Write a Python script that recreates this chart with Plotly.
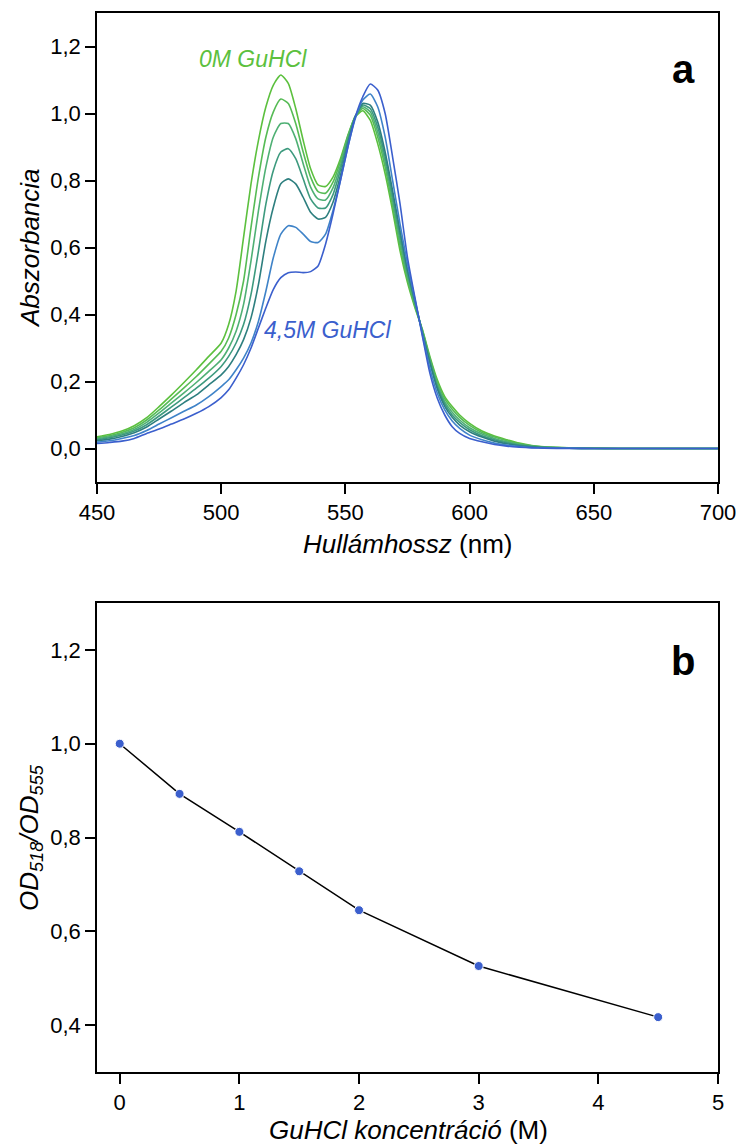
import plotly.graph_objects as go

W, H = 740, 1147

# ---------------- data: panel a (absorbance spectra) ----------------
wavelength = [450, 455, 460, 465, 470, 475, 480, 485, 490, 495, 500, 503, 506, 509, 512, 515,
              518, 521, 524, 527, 530, 533, 536, 539, 542, 545, 548, 551, 554, 557, 560, 563,
              566, 569, 572, 575, 578, 581, 584, 587, 590, 593, 596, 600, 605, 610, 615, 620,
              625, 630, 640, 650, 660, 670, 680, 690, 700]

abs_0M = [0.035, 0.042, 0.052, 0.068, 0.092, 0.125, 0.160, 0.197, 0.235, 0.275, 0.315, 0.37, 0.47, 0.63, 0.79, 0.92,
          1.02, 1.085, 1.115, 1.09, 1.015, 0.92, 0.835, 0.787, 0.782, 0.81, 0.865, 0.935, 0.99, 1.008, 0.98, 0.91,
          0.82, 0.71, 0.59, 0.495, 0.42, 0.355, 0.275, 0.205, 0.155, 0.125, 0.10, 0.075, 0.052, 0.037, 0.026, 0.016,
          0.009, 0.005, 0.002, 0.001, 0.0, 0.0, 0.0, 0.0, 0.0]
abs_05M = [0.032, 0.038, 0.048, 0.062, 0.085, 0.115, 0.148, 0.181, 0.215, 0.252, 0.29, 0.33, 0.40, 0.50, 0.66, 0.81,
           0.93, 1.005, 1.043, 1.03, 0.97, 0.885, 0.81, 0.767, 0.762, 0.795, 0.857, 0.932, 0.992, 1.015, 0.995, 0.93,
           0.84, 0.725, 0.605, 0.505, 0.425, 0.353, 0.27, 0.198, 0.148, 0.117, 0.093, 0.069, 0.048, 0.034, 0.023, 0.014,
           0.008, 0.004, 0.002, 0.001, 0.0, 0.0, 0.0, 0.0, 0.0]
abs_1M = [0.029, 0.035, 0.044, 0.057, 0.078, 0.106, 0.136, 0.166, 0.197, 0.23, 0.265, 0.30, 0.35, 0.43, 0.56, 0.71,
          0.84, 0.93, 0.97, 0.97, 0.925, 0.85, 0.78, 0.745, 0.742, 0.778, 0.845, 0.927, 0.993, 1.02, 1.005, 0.945,
          0.855, 0.74, 0.62, 0.515, 0.43, 0.35, 0.265, 0.19, 0.14, 0.108, 0.085, 0.062, 0.043, 0.03, 0.02, 0.012,
          0.007, 0.004, 0.001, 0.0, 0.0, 0.0, 0.0, 0.0, 0.0]
abs_15M = [0.026, 0.032, 0.040, 0.052, 0.071, 0.097, 0.124, 0.152, 0.18, 0.21, 0.245, 0.275, 0.315, 0.37, 0.46, 0.59,
           0.73, 0.83, 0.885, 0.895, 0.865, 0.805, 0.745, 0.718, 0.718, 0.758, 0.832, 0.92, 0.99, 1.025, 1.015, 0.96,
           0.87, 0.755, 0.635, 0.525, 0.435, 0.348, 0.26, 0.185, 0.133, 0.10, 0.078, 0.056, 0.038, 0.026, 0.017, 0.010,
           0.006, 0.003, 0.001, 0.0, 0.0, 0.0, 0.0, 0.0, 0.0]
abs_2M = [0.023, 0.028, 0.036, 0.047, 0.064, 0.088, 0.112, 0.137, 0.16, 0.19, 0.22, 0.245, 0.28, 0.325, 0.39, 0.49,
          0.62, 0.72, 0.79, 0.805, 0.79, 0.75, 0.705, 0.685, 0.69, 0.735, 0.815, 0.91, 0.99, 1.03, 1.025, 0.975,
          0.885, 0.77, 0.65, 0.535, 0.44, 0.345, 0.255, 0.178, 0.126, 0.093, 0.07, 0.05, 0.034, 0.022, 0.014, 0.008,
          0.005, 0.003, 0.001, 0.0, 0.0, 0.0, 0.0, 0.0, 0.0]
abs_3M = [0.019, 0.023, 0.030, 0.039, 0.054, 0.073, 0.092, 0.111, 0.13, 0.155, 0.185, 0.205, 0.235, 0.27, 0.315, 0.38,
          0.47, 0.57, 0.64, 0.665, 0.66, 0.64, 0.618, 0.615, 0.64, 0.71, 0.80, 0.90, 0.985, 1.04, 1.058, 1.02,
          0.93, 0.80, 0.67, 0.55, 0.445, 0.34, 0.24, 0.165, 0.115, 0.082, 0.06, 0.04, 0.026, 0.016, 0.010, 0.006,
          0.003, 0.002, 0.001, 0.0, 0.0, 0.0, 0.0, 0.0, 0.0]
abs_45M = [0.015, 0.018, 0.022, 0.030, 0.045, 0.058, 0.073, 0.088, 0.105, 0.125, 0.152, 0.175, 0.21, 0.25, 0.30, 0.36,
           0.42, 0.475, 0.51, 0.525, 0.527, 0.525, 0.528, 0.545, 0.61, 0.70, 0.80, 0.90, 0.99, 1.05, 1.088, 1.07,
           1.0, 0.87, 0.73, 0.57, 0.45, 0.335, 0.225, 0.15, 0.10, 0.065, 0.045, 0.03, 0.02, 0.012, 0.007, 0.004,
           0.002, 0.001, 0.0, 0.0, 0.0, 0.0, 0.0, 0.0, 0.0]

spectra = [abs_0M, abs_05M, abs_1M, abs_15M, abs_2M, abs_3M, abs_45M]
spectra_names = ["0 M", "0,5 M", "1 M", "1,5 M", "2 M", "3 M", "4,5 M"]
spectra_colors = ["#5cc03e", "#56bb55", "#4fb074", "#3d9a7e", "#2e7f7f", "#3f83c8", "#3b5fcd"]

# ---------------- data: panel b (ratio) ----------------
guhcl_conc = [0, 0.5, 1, 1.5, 2, 3, 4.5]
od_ratio = [1.0, 0.893, 0.812, 0.728, 0.645, 0.526, 0.417]

# ---------------- ticks ----------------
a_xticks = [450, 500, 550, 600, 650, 700]
a_yticks = [0.0, 0.2, 0.4, 0.6, 0.8, 1.0, 1.2]
a_yticktext = ["0,0", "0,2", "0,4", "0,6", "0,8", "1,0", "1,2"]
b_xticks = [0, 1, 2, 3, 4, 5]
b_yticks = [0.4, 0.6, 0.8, 1.0, 1.2]
b_yticktext = ["0,4", "0,6", "0,8", "1,0", "1,2"]

FONT = "Arial, 'Liberation Sans', sans-serif"


def px_x(x):
    return x / W


def px_y(y):
    return 1 - y / H


fig = go.Figure()

for vals, name, col in zip(spectra, spectra_names, spectra_colors):
    fig.add_trace(go.Scatter(x=wavelength, y=vals, mode="lines", name=name,
                             line=dict(color=col, width=1.6, shape="spline", smoothing=0.6),
                             xaxis="x", yaxis="y", showlegend=False))

fig.add_trace(go.Scatter(x=guhcl_conc, y=od_ratio, mode="lines+markers",
                         line=dict(color="black", width=1.5),
                         marker=dict(color="#3b5fcd", size=9, line=dict(color="white", width=1)),
                         xaxis="x2", yaxis="y2", showlegend=False))

axis_common = dict(showline=True, linecolor="black", linewidth=1.5, mirror=True,
                   ticks="outside", ticklen=10, tickwidth=1.5, tickcolor="black",
                   showgrid=False, zeroline=False, automargin=False,
                   tickfont=dict(family=FONT, size=22, color="black"))

fig.update_layout(
    width=W, height=H,
    margin=dict(l=0, r=0, t=0, b=0, pad=0, autoexpand=False),
    paper_bgcolor="white", plot_bgcolor="white",
    xaxis=dict(domain=[px_x(97), px_x(718)], range=[450, 700], tickvals=a_xticks,
               anchor="y", **axis_common),
    yaxis=dict(domain=[px_y(482), px_y(13)], range=[-0.1, 1.3], tickvals=a_yticks,
               ticktext=a_yticktext, anchor="x", **axis_common),
    xaxis2=dict(domain=[px_x(97), px_x(718)], range=[-0.19, 5.0], tickvals=b_xticks,
                anchor="y2", **axis_common),
    yaxis2=dict(domain=[px_y(1072), px_y(603)], range=[0.3, 1.3], tickvals=b_yticks,
                ticktext=b_yticktext, anchor="x2", **axis_common),
)

ann = []
# curve labels
ann.append(dict(x=490.3, y=1.163, xref="x", yref="y", text="<i>0M GuHCl</i>", showarrow=False,
                xanchor="left", yanchor="middle", font=dict(family=FONT, size=23, color="#5cc03e")))
ann.append(dict(x=516.4, y=0.355, xref="x", yref="y", text="<i>4,5M GuHCl</i>", showarrow=False,
                xanchor="left", yanchor="middle", font=dict(family=FONT, size=23, color="#3b5fcd")))
# panel letters
ann.append(dict(x=px_x(683), y=px_y(69), xref="paper", yref="paper", text="<b>a</b>", showarrow=False,
                xanchor="center", yanchor="middle", font=dict(family=FONT, size=40, color="black")))
ann.append(dict(x=px_x(683), y=px_y(661), xref="paper", yref="paper", text="<b>b</b>", showarrow=False,
                xanchor="center", yanchor="middle", font=dict(family=FONT, size=40, color="black")))
# axis titles
ann.append(dict(x=px_x(408), y=px_y(544), xref="paper", yref="paper", text="<i>Hullámhossz</i> (nm)",
                showarrow=False, xanchor="center", yanchor="middle",
                font=dict(family=FONT, size=26, color="black")))
ann.append(dict(x=px_x(30), y=px_y(248), xref="paper", yref="paper", text="<i>Abszorbancia</i>",
                showarrow=False, xanchor="center", yanchor="middle", textangle=-90,
                font=dict(family=FONT, size=26, color="black")))
ann.append(dict(x=px_x(408), y=px_y(1130), xref="paper", yref="paper", text="<i>GuHCl koncentráció</i> (M)",
                showarrow=False, xanchor="center", yanchor="middle",
                font=dict(family=FONT, size=26, color="black")))
ann.append(dict(x=px_x(30), y=px_y(838), xref="paper", yref="paper",
                text="<i>OD<sub>518</sub>/OD<sub>555</sub></i>",
                showarrow=False, xanchor="center", yanchor="middle", textangle=-90,
                font=dict(family=FONT, size=26, color="black")))
fig.update_layout(annotations=ann)

fig.write_html("out.html")
